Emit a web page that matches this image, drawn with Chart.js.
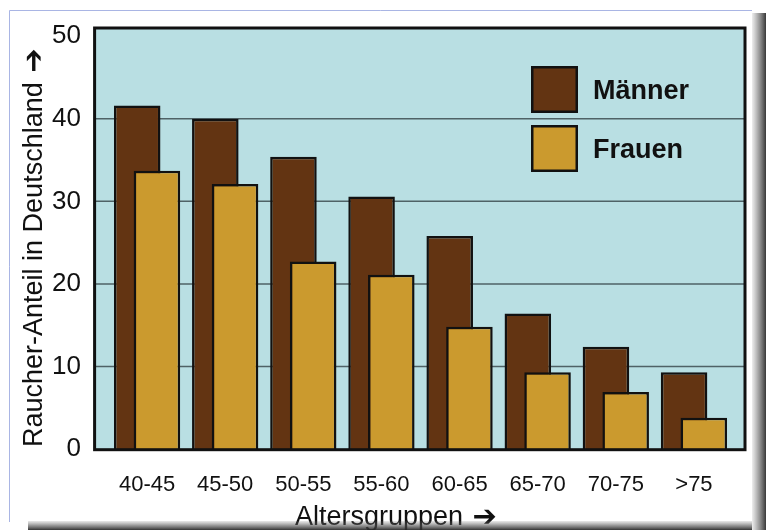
<!DOCTYPE html>
<html>
<head>
<meta charset="utf-8">
<script src="https://cdn.jsdelivr.net/npm/chart.js@4/dist/chart.umd.min.js"></script>
<style>
  html, body { margin: 0; padding: 0; background: #fff; }
  canvas { display: block; }
</style>
</head>
<body>
<canvas id="chart" width="766" height="530"></canvas>
<script>
// Smoker share in Germany by age group (percent)
const ageGroups = ['40-45', '45-50', '50-55', '55-60', '60-65', '65-70', '70-75', '>75'];
const men   = [41.6, 40.0, 35.4, 30.6, 25.8, 16.4, 12.4, 9.3];
const women = [33.7, 32.1, 22.7, 21.1, 14.8, 9.3, 6.9, 3.8];
const seriesNames = ['Männer', 'Frauen'];
const yTicks = [0, 10, 20, 30, 40, 50];
const gridValues = [10, 20, 30, 40];
const yTitle = 'Raucher-Anteil in Deutschland \u2794';
const xTitle = 'Altersgruppen \u2794';

const FONT = "'Liberation Sans', Arial, 'DejaVu Sans', sans-serif";
const ARROW_FONT = "bold 29px 'DejaVu Sans', sans-serif";
const INK = '#111111';
const PLOT_BG = '#b9dfe3';
const GRID = '#4f6266';
const COLORS = ['#633412', '#cb9a2e'];

Chart.defaults.font.family = FONT;
Chart.defaults.color = INK;

// Title text in the regular face, trailing arrow in a heavier one
function drawTitle(ctx, title, x, y) {
  const cut = title.lastIndexOf(' ');
  const text = title.slice(0, cut + 1);
  const arrow = title.slice(cut + 1);
  ctx.font = "27px " + FONT;
  ctx.fillText(text, x, y);
  const w = ctx.measureText(text).width;
  ctx.font = ARROW_FONT;
  ctx.fillText(arrow, x + w + 2, y + 1);
}

// Page frame, plot box, grid, legend and axis titles
const framePlugin = {
  id: 'framePlugin',
  beforeDraw(chart) {
    const ctx = chart.ctx;
    ctx.save();
    ctx.fillStyle = '#ffffff';
    ctx.fillRect(0, 0, chart.width, chart.height);
    ctx.strokeStyle = '#a9b5e4';
    ctx.lineWidth = 1;
    ctx.beginPath();
    ctx.moveTo(9.5, 522);
    ctx.lineTo(9.5, 10.5);
    ctx.lineTo(752, 10.5);
    ctx.stroke();
    ctx.restore();
  },
  beforeDatasetsDraw(chart) {
    const ctx = chart.ctx;
    const a = chart.chartArea;
    const y = chart.scales.y;
    const box = { l: a.left - 13.4, r: a.right + 12, t: a.top, b: a.bottom + 0.7 };
    ctx.save();
    ctx.fillStyle = PLOT_BG;
    ctx.fillRect(box.l, box.t, box.r - box.l, box.b - box.t);
    ctx.strokeStyle = GRID;
    ctx.lineWidth = 1.5;
    gridValues.forEach(v => {
      const py = y.getPixelForValue(v);
      ctx.beginPath();
      ctx.moveTo(box.l, py);
      ctx.lineTo(box.r, py);
      ctx.stroke();
    });
    ctx.restore();

    // men first, women drawn over them
    chart.getSortedVisibleDatasetMetas().forEach(meta => meta.controller.draw());

    ctx.save();
    ctx.strokeStyle = INK;
    ctx.lineWidth = 3;
    ctx.strokeRect(box.l, box.t, box.r - box.l, box.b - box.t);
    ctx.restore();
    return false;
  },
  afterDraw(chart) {
    const ctx = chart.ctx;
    const a = chart.chartArea;
    ctx.save();

    // legend inside the plot
    chart.data.datasets.forEach((ds, i) => {
      const bx = a.right - 202, by = a.top + 38 + i * 59;
      ctx.fillStyle = INK;
      ctx.fillRect(bx, by, 47, 47);
      ctx.fillStyle = ds.backgroundColor;
      ctx.fillRect(bx + 2.5, by + 2.5, 42, 42);
      ctx.fillStyle = INK;
      ctx.font = "bold 27px " + FONT;
      ctx.textAlign = 'left';
      ctx.textBaseline = 'alphabetic';
      ctx.fillText(ds.label, a.right - 140, by + 32.5);
    });

    // axis titles
    ctx.fillStyle = INK;
    ctx.textAlign = 'left';
    ctx.textBaseline = 'alphabetic';
    drawTitle(ctx, xTitle, 295, 524.5);
    ctx.save();
    ctx.translate(41.7, 447);
    ctx.rotate(-Math.PI / 2);
    drawTitle(ctx, yTitle, 0, 0);
    ctx.restore();

    // drop shadow along right and bottom edges
    let g = ctx.createLinearGradient(752, 0, 766, 0);
    g.addColorStop(0, 'rgba(110,110,110,0.12)');
    g.addColorStop(0.45, 'rgba(90,90,90,0.55)');
    g.addColorStop(1, 'rgba(45,45,45,0.95)');
    ctx.fillStyle = g;
    ctx.fillRect(752, 13, 14, 517);
    g = ctx.createLinearGradient(0, 521, 0, 530);
    g.addColorStop(0, 'rgba(110,110,110,0.15)');
    g.addColorStop(0.5, 'rgba(80,80,80,0.6)');
    g.addColorStop(1, 'rgba(40,40,40,0.95)');
    ctx.fillStyle = g;
    ctx.fillRect(28, 521, 724, 9);
    ctx.restore();
  }
};

new Chart(document.getElementById('chart'), {
  type: 'bar',
  data: {
    labels: ageGroups,
    datasets: [
      {
        label: seriesNames[0], data: men,
        backgroundColor: COLORS[0], borderColor: INK, borderWidth: 2.5,
        categoryPercentage: 0.505, barPercentage: 2.36
      },
      {
        label: seriesNames[1], data: women,
        backgroundColor: COLORS[1], borderColor: INK, borderWidth: 2.5,
        categoryPercentage: 0.505, barPercentage: 2.36
      }
    ]
  },
  options: {
    responsive: false,
    animation: false,
    devicePixelRatio: 1,
    layout: { padding: { left: 0, top: 28, right: 33, bottom: 21 } },
    plugins: { legend: { display: false }, tooltip: { enabled: false } },
    scales: {
      x: {
        offset: true,
        grid: { display: false, drawTicks: false },
        border: { display: false },
        ticks: { font: { size: 22 }, color: INK, padding: 23, maxRotation: 0, autoSkip: false },
        afterFit(s) { s.height = 60; }
      },
      y: {
        min: 0, max: 51,
        grid: { display: false, drawTicks: false },
        border: { display: false },
        ticks: { font: { size: 26 }, color: INK, padding: 27 },
        afterBuildTicks(s) { s.ticks = yTicks.map(v => ({ value: v })); },
        afterFit(s) { s.width = 108; s.paddingTop = 0; s.paddingBottom = 0; }
      }
    }
  },
  plugins: [framePlugin]
});
</script>
</body>
</html>
